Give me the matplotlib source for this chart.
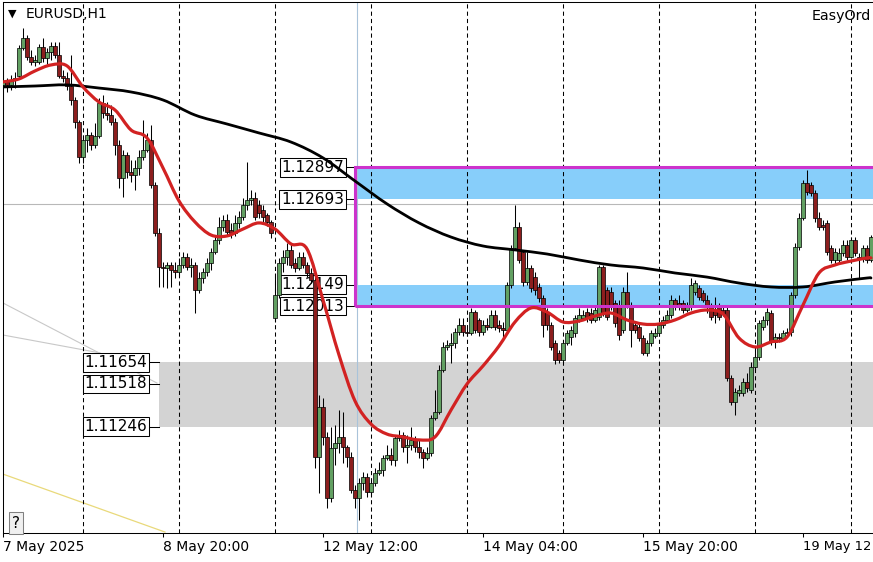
import numpy as np
import matplotlib.pyplot as plt
from matplotlib.patches import Rectangle, PathPatch
from matplotlib.path import Path

# EURUSD H1 bars, 7 May 2025 04:00 onwards (weekend compressed like MT4)
opens = [
    1.13422, 1.13441, 1.13422, 1.13453, 1.13479, 1.13657, 1.13721, 1.13600, 1.13568, 1.13568,
    1.13664, 1.13594, 1.13632, 1.13670, 1.13613, 1.13479, 1.13466, 1.13415, 1.13326, 1.13186,
    1.12963, 1.13071, 1.13103, 1.13039, 1.13097, 1.13307, 1.13243, 1.13230, 1.13186, 1.13039,
    1.12829, 1.12976, 1.12867, 1.12848, 1.12893, 1.12963, 1.13008, 1.13071, 1.12785, 1.12479,
    1.12262, 1.12256, 1.12275, 1.12243, 1.12230, 1.12275, 1.12326, 1.12262, 1.12275, 1.12116,
    1.12192, 1.12230, 1.12288, 1.12358, 1.12435, 1.12517, 1.12562, 1.12498, 1.12479, 1.12543,
    1.12581, 1.12657, 1.12689, 1.12702, 1.12657, 1.12625, 1.12594, 1.12549, 1.11937, 1.12084,
    1.12288, 1.12326, 1.12371, 1.12288, 1.12256, 1.12326, 1.12275, 1.12224, 1.12179, 1.11052,
    1.11371, 1.11180, 1.10791, 1.11109, 1.11141, 1.11180, 1.11116, 1.11052, 1.10842, 1.10791,
    1.10886, 1.10925, 1.10829, 1.10886, 1.10950, 1.10969, 1.11046, 1.11065, 1.11033, 1.11173,
    1.11192, 1.11116, 1.11128, 1.11161, 1.11116, 1.11084, 1.11046, 1.11077, 1.11301, 1.11339,
    1.11606, 1.11753, 1.11766, 1.11778, 1.11848, 1.11893, 1.11848, 1.11842, 1.11975, 1.11925,
    1.11848, 1.11893, 1.11880, 1.11956, 1.11893, 1.11874, 1.11861, 1.12147, 1.12384, 1.12517,
    1.12358, 1.12166, 1.12256, 1.12198, 1.12135, 1.12065, 1.11975, 1.11893, 1.11778, 1.11715,
    1.11670, 1.11778, 1.11816, 1.11842, 1.11925, 1.11937, 1.11975, 1.11969, 1.11925, 1.11944,
    1.12262, 1.12116, 1.12103, 1.12033, 1.12020, 1.11861, 1.12103, 1.12020, 1.11893, 1.11880,
    1.11810, 1.11715, 1.11778, 1.11823, 1.11842, 1.11893, 1.11925, 1.11956, 1.12052, 1.12033,
    1.12033, 1.11988, 1.12007, 1.12103, 1.12129, 1.12097, 1.12052, 1.12007, 1.11988, 1.12007,
    1.11988, 1.11988, 1.11555, 1.11404, 1.11461, 1.11461, 1.11530, 1.11480, 1.11625, 1.11689,
    1.11880, 1.11925, 1.11969, 1.11785, 1.11816, 1.11810, 1.11842, 1.11848, 1.12084, 1.12390,
    1.12575, 1.12797, 1.12785, 1.12734, 1.12575, 1.12530, 1.12543, 1.12384, 1.12307, 1.12307,
    1.12352, 1.12403, 1.12326, 1.12435, 1.12326, 1.12314, 1.12384, 1.12307,
]
highs = [
    1.13517, 1.13466, 1.13485, 1.13504, 1.13676, 1.13785, 1.13740, 1.13645, 1.13613, 1.13683,
    1.13721, 1.13657, 1.13695, 1.13695, 1.13695, 1.13517, 1.13504, 1.13613, 1.13345, 1.13199,
    1.13103, 1.13148, 1.13122, 1.13180, 1.13339, 1.13358, 1.13313, 1.13294, 1.13211, 1.13071,
    1.13008, 1.12995, 1.12944, 1.12944, 1.13008, 1.13199, 1.13116, 1.13167, 1.12804, 1.12511,
    1.12294, 1.12294, 1.12294, 1.12294, 1.12320, 1.12358, 1.12352, 1.12320, 1.12294, 1.12230,
    1.12256, 1.12320, 1.12384, 1.12460, 1.12581, 1.12594, 1.12600, 1.12543, 1.12594, 1.12619,
    1.12702, 1.12931, 1.12753, 1.12740, 1.12689, 1.12657, 1.12606, 1.12562, 1.12224, 1.12320,
    1.12371, 1.12416, 1.12416, 1.12320, 1.12358, 1.12358, 1.12294, 1.12256, 1.12211, 1.11448,
    1.11429, 1.11211, 1.11243, 1.11257, 1.11352, 1.11339, 1.11128, 1.11084, 1.10874, 1.10918,
    1.10957, 1.10950, 1.10918, 1.10982, 1.11020, 1.11065, 1.11128, 1.11109, 1.11192, 1.11224,
    1.11211, 1.11192, 1.11243, 1.11186, 1.11161, 1.11103, 1.11116, 1.11320, 1.11480, 1.11638,
    1.11785, 1.11797, 1.11842, 1.11874, 1.11937, 1.11937, 1.11893, 1.12001, 1.11988, 1.11937,
    1.11925, 1.11937, 1.11988, 1.11988, 1.11925, 1.11912, 1.12166, 1.12403, 1.12657, 1.12549,
    1.12371, 1.12358, 1.12275, 1.12230, 1.12160, 1.12084, 1.12001, 1.11912, 1.11797, 1.11734,
    1.11797, 1.11861, 1.11887, 1.11956, 1.12001, 1.11988, 1.12001, 1.12001, 1.12020, 1.12275,
    1.12275, 1.12135, 1.12135, 1.12052, 1.12052, 1.12135, 1.12230, 1.12039, 1.11912, 1.11906,
    1.11829, 1.11797, 1.11861, 1.11874, 1.11912, 1.11950, 1.11988, 1.12084, 1.12065, 1.12084,
    1.12052, 1.12039, 1.12192, 1.12179, 1.12147, 1.12116, 1.12084, 1.12033, 1.12071, 1.12033,
    1.12020, 1.12020, 1.11575, 1.11492, 1.11511, 1.11555, 1.11587, 1.11657, 1.11734, 1.11925,
    1.11950, 1.12001, 1.11988, 1.11842, 1.11842, 1.11861, 1.11874, 1.12103, 1.12416, 1.12606,
    1.12817, 1.12880, 1.12804, 1.12753, 1.12613, 1.12562, 1.12562, 1.12403, 1.12384, 1.12384,
    1.12435, 1.12435, 1.12454, 1.12454, 1.12352, 1.12403, 1.12403, 1.12466,
]
lows = [
    1.13262, 1.13377, 1.13390, 1.13402, 1.13466, 1.13645, 1.13581, 1.13549, 1.13543, 1.13555,
    1.13568, 1.13555, 1.13581, 1.13594, 1.13466, 1.13441, 1.13390, 1.13294, 1.13148, 1.12925,
    1.12925, 1.12995, 1.13008, 1.13020, 1.13084, 1.13211, 1.13199, 1.13167, 1.12976, 1.12767,
    1.12708, 1.12829, 1.12804, 1.12753, 1.12848, 1.12944, 1.12995, 1.12767, 1.12460, 1.12135,
    1.12135, 1.12129, 1.12135, 1.12192, 1.12205, 1.12256, 1.12243, 1.12198, 1.11969, 1.12097,
    1.12160, 1.12205, 1.12243, 1.12346, 1.12409, 1.12492, 1.12466, 1.12447, 1.12460, 1.12511,
    1.12562, 1.12625, 1.12657, 1.12562, 1.12575, 1.12549, 1.12524, 1.12447, 1.11912, 1.12065,
    1.12230, 1.12275, 1.12256, 1.12230, 1.12243, 1.12256, 1.12198, 1.12160, 1.10982, 1.10823,
    1.11128, 1.10727, 1.10765, 1.11001, 1.11077, 1.11014, 1.10988, 1.10823, 1.10727, 1.10651,
    1.10842, 1.10797, 1.10797, 1.10867, 1.10938, 1.10931, 1.11033, 1.11001, 1.10995, 1.11154,
    1.11084, 1.11014, 1.11097, 1.11084, 1.11046, 1.10982, 1.11033, 1.11058, 1.11289, 1.11326,
    1.11593, 1.11734, 1.11651, 1.11747, 1.11829, 1.11823, 1.11823, 1.11829, 1.11842, 1.11823,
    1.11829, 1.11861, 1.11874, 1.11861, 1.11848, 1.11816, 1.11842, 1.12129, 1.12371, 1.12288,
    1.12141, 1.12147, 1.12103, 1.12084, 1.12039, 1.11816, 1.11861, 1.11734, 1.11645, 1.11651,
    1.11657, 1.11766, 1.11766, 1.11816, 1.11912, 1.11925, 1.11912, 1.11906, 1.11912, 1.11925,
    1.11950, 1.11925, 1.11988, 1.11880, 1.11797, 1.11842, 1.12001, 1.11753, 1.11842, 1.11791,
    1.11702, 1.11696, 1.11759, 1.11810, 1.11823, 1.11874, 1.11912, 1.11937, 1.11988, 1.11988,
    1.11969, 1.11975, 1.11988, 1.12084, 1.12052, 1.12039, 1.11969, 1.11925, 1.11906, 1.11925,
    1.11950, 1.11536, 1.11384, 1.11320, 1.11442, 1.11442, 1.11467, 1.11461, 1.11606, 1.11670,
    1.11861, 1.11893, 1.11766, 1.11747, 1.11785, 1.11797, 1.11816, 1.11823, 1.12065, 1.12371,
    1.12562, 1.12721, 1.12715, 1.12549, 1.12498, 1.12498, 1.12339, 1.12288, 1.12275, 1.12294,
    1.12333, 1.12307, 1.12320, 1.12333, 1.12192, 1.12294, 1.12288, 1.12294,
]
closes = [
    1.13441, 1.13422, 1.13453, 1.13466, 1.13657, 1.13721, 1.13600, 1.13568, 1.13581, 1.13664,
    1.13594, 1.13632, 1.13670, 1.13613, 1.13479, 1.13466, 1.13415, 1.13326, 1.13186, 1.12963,
    1.13071, 1.13103, 1.13039, 1.13097, 1.13307, 1.13243, 1.13230, 1.13186, 1.13039, 1.12829,
    1.12976, 1.12867, 1.12848, 1.12893, 1.12963, 1.13008, 1.13071, 1.12785, 1.12479, 1.12262,
    1.12256, 1.12275, 1.12243, 1.12230, 1.12275, 1.12326, 1.12262, 1.12275, 1.12116, 1.12192,
    1.12230, 1.12288, 1.12358, 1.12435, 1.12517, 1.12562, 1.12485, 1.12479, 1.12543, 1.12581,
    1.12657, 1.12689, 1.12702, 1.12581, 1.12606, 1.12581, 1.12549, 1.12479, 1.12084, 1.12288,
    1.12326, 1.12371, 1.12275, 1.12256, 1.12326, 1.12275, 1.12224, 1.12179, 1.11052, 1.11371,
    1.11180, 1.10791, 1.11109, 1.11141, 1.11180, 1.11116, 1.11052, 1.10842, 1.10791, 1.10886,
    1.10925, 1.10829, 1.10886, 1.10950, 1.10969, 1.11046, 1.11065, 1.11033, 1.11173, 1.11192,
    1.11116, 1.11128, 1.11161, 1.11116, 1.11084, 1.11046, 1.11077, 1.11301, 1.11339, 1.11606,
    1.11753, 1.11766, 1.11778, 1.11848, 1.11893, 1.11848, 1.11842, 1.11975, 1.11861, 1.11848,
    1.11893, 1.11880, 1.11956, 1.11880, 1.11874, 1.11861, 1.12147, 1.12384, 1.12517, 1.12307,
    1.12166, 1.12256, 1.12129, 1.12116, 1.12065, 1.11893, 1.11893, 1.11753, 1.11670, 1.11670,
    1.11778, 1.11842, 1.11861, 1.11937, 1.11956, 1.11956, 1.11937, 1.11925, 1.11988, 1.12262,
    1.11969, 1.11944, 1.12007, 1.11906, 1.11829, 1.12103, 1.12020, 1.11861, 1.11861, 1.11810,
    1.11715, 1.11778, 1.11842, 1.11842, 1.11893, 1.11925, 1.11956, 1.12052, 1.12020, 1.12007,
    1.11988, 1.12007, 1.12147, 1.12160, 1.12071, 1.12052, 1.12007, 1.11944, 1.11956, 1.11944,
    1.11969, 1.11555, 1.11404, 1.11467, 1.11480, 1.11530, 1.11492, 1.11625, 1.11689, 1.11906,
    1.11925, 1.11975, 1.11785, 1.11816, 1.11810, 1.11842, 1.11848, 1.12084, 1.12390, 1.12575,
    1.12797, 1.12740, 1.12734, 1.12575, 1.12517, 1.12517, 1.12358, 1.12307, 1.12358, 1.12352,
    1.12403, 1.12326, 1.12435, 1.12352, 1.12314, 1.12384, 1.12307, 1.12454,
]

# moving averages (red = fast MA every 4 bars, black = slow MA every 8 bars)
red_ma_bars = list(range(0, 217, 4)) + [217]
red_ma = [
    1.13441, 1.13460, 1.13511, 1.13549, 1.13543, 1.13409, 1.13313, 1.13262, 1.13135, 1.13084,
    1.12893, 1.12683, 1.12549, 1.12466, 1.12460, 1.12504, 1.12543, 1.12504, 1.12409, 1.12377,
    1.12052, 1.11702, 1.11409, 1.11262, 1.11198, 1.11180, 1.11161, 1.11180, 1.11351, 1.11517,
    1.11632, 1.11759, 1.11912, 1.12001, 1.11975, 1.11912, 1.11918, 1.11950, 1.11969, 1.11925,
    1.11899, 1.11899, 1.11925, 1.11969, 1.11988, 1.11963, 1.11810, 1.11753, 1.11785, 1.11816,
    1.12020, 1.12224, 1.12275, 1.12300, 1.12320, 1.12320,
]
black_ma_bars = list(range(0, 217, 8)) + [217]
black_ma = [
    1.13409, 1.13415, 1.13422, 1.13402, 1.13377, 1.13326, 1.13230, 1.13173, 1.13116, 1.13058,
    1.12957, 1.12810, 1.12664, 1.12543, 1.12453, 1.12396, 1.12371, 1.12345, 1.12307, 1.12275,
    1.12256, 1.12224, 1.12198, 1.12160, 1.12135, 1.12135, 1.12167, 1.12192, 1.12192,
]

separators = [20, 44, 68, 92, 116, 140, 164, 188, 212]
tick_bars = [0, 40, 80, 120, 160, 200]
tick_labels = ['7 May 2025', '8 May 20:00', '12 May 12:00', '14 May 04:00',
               '15 May 20:00', '19 May 12']

blue_start = 88
blue_levels = [1.12897, 1.12693, 1.12149, 1.12013]
gray_start = 39
gray_levels = [1.11654, 1.11518, 1.11246]
bid_level = 1.12663
cursor_bar = 88.5

# trend line objects: (bar0, price0, bar1, price1)
gray_trend_1 = (0, 1.12033, 38.5, 1.11523)
gray_trend_2 = (0, 1.11829, 24.25, 1.11715)
yellow_trend = (-0.75, 1.10950, 40.5, 1.10574)


def smooth_path(xs, ys):
    # Catmull-Rom through the read points, drawn as cubic Bezier segments
    pts = np.column_stack([xs, ys]).astype(float)
    n = len(pts)
    verts = [pts[0]]
    codes = [Path.MOVETO]
    for k in range(n - 1):
        p0 = pts[k - 1] if k > 0 else pts[k]
        p1, p2 = pts[k], pts[k + 1]
        p3 = pts[k + 2] if k + 2 < n else pts[k + 1]
        verts += [p1 + (p2 - p0) / 6, p2 - (p3 - p1) / 6, p2]
        codes += [Path.CURVE4] * 3
    return Path(verts, codes)


o = np.array(opens)
h = np.array(highs)
l = np.array(lows)
c = np.array(closes)
x = np.arange(len(c))
assert len(o) == len(h) == len(l) == len(c)

fig = plt.figure(figsize=(8.73, 5.62), dpi=100)
ax = fig.add_axes([3 / 873, 29 / 562, 880 / 873, 531 / 562])
ax.set_xlim(0, 220)
ax.set_ylim(1.10568, 1.13950)
px = (1.13950 - 1.10568) / 531

# zones
ax.add_patch(Rectangle((blue_start, blue_levels[1]), 300, blue_levels[0] - blue_levels[1],
                       facecolor='#87cefa', edgecolor='none', zorder=1))
ax.add_patch(Rectangle((blue_start, blue_levels[3]), 300, blue_levels[2] - blue_levels[3],
                       facecolor='#87cefa', edgecolor='none', zorder=1))
ax.add_patch(Rectangle((gray_start, gray_levels[2]), 300, gray_levels[0] - gray_levels[2],
                       facecolor='#d3d3d3', edgecolor='none', zorder=1))

ax.axhline(bid_level, color='#b8b8b8', lw=0.8, zorder=1.1)
ax.axvline(cursor_bar, color='#a9c3da', lw=0.8, zorder=1.1)

for t in (gray_trend_1, gray_trend_2):
    ax.plot([t[0], t[2]], [t[1], t[3]], color='#c8c8c8', lw=0.8, zorder=1.2)
ax.plot([yellow_trend[0], yellow_trend[2]], [yellow_trend[1], yellow_trend[3]],
        color='#e9d97a', lw=0.9, zorder=1.2)

for s in separators:
    ax.axvline(s, color='black', lw=0.75, ls=(0, (4, 3)), zorder=1.5)

# price labels
for lv in blue_levels:
    ax.plot([85.75, blue_start], [lv, lv], color='black', lw=0.75, zorder=2)
    ax.text(85.3, lv, f'{lv:.5f}', ha='right', va='center', fontsize=11, zorder=2,
            bbox=dict(boxstyle='square,pad=0.12', facecolor='white', edgecolor='black', lw=0.75))
for lv in gray_levels:
    ax.plot([36.5, gray_start], [lv, lv], color='black', lw=0.75, zorder=2)
    ax.text(36.05, lv, f'{lv:.5f}', ha='right', va='center', fontsize=11, zorder=2,
            bbox=dict(boxstyle='square,pad=0.12', facecolor='white', edgecolor='black', lw=0.75))

# candles
ax.vlines(x, l, h, color='black', lw=0.75, zorder=2.9)
body_low = np.minimum(o, c)
body_h = np.maximum(np.abs(c - o), 0.8 * px)
cols = np.where(c >= o, '#62a062', '#8c1e1e')
ax.bar(x, body_h, bottom=body_low, width=0.78, color=cols, edgecolor='black',
       linewidth=0.5, zorder=3)

ax.add_patch(Rectangle((blue_start, blue_levels[3]), 300, blue_levels[0] - blue_levels[3],
                       fill=False, edgecolor='#cc33cc', lw=2.2, zorder=3.5))

ax.add_patch(PathPatch(smooth_path(black_ma_bars, black_ma), fill=False, edgecolor='black',
                       lw=2.0, capstyle='round', joinstyle='round', zorder=4))
ax.add_patch(PathPatch(smooth_path(red_ma_bars, red_ma), fill=False, edgecolor='#d22222',
                       lw=2.3, capstyle='round', joinstyle='round', zorder=4.1))

ax.set_yticks([])
ax.set_xticks(tick_bars)
ax.set_xticklabels(tick_labels, ha='left', fontsize=10)
ax.get_xticklabels()[-1].set_fontsize(9.4)
ax.tick_params(axis='x', direction='out', length=3, width=0.75, pad=2)
ax.spines['right'].set_visible(False)
for sp in ('left', 'top', 'bottom'):
    ax.spines[sp].set_linewidth(0.75)

fig.text(8 / 873, 1 - 14 / 562, '\u25bc', fontsize=8, va='center', ha='left')
fig.text(26 / 873, 1 - 14 / 562, 'EURUSD,H1', fontsize=10, va='center', ha='left')
fig.text(812 / 873, 1 - 16 / 562, 'EasyOrd', fontsize=10.3, va='center', ha='left')
fig.text(16 / 873, 1 - 523 / 562, '?', fontsize=11, va='center', ha='center',
         bbox=dict(boxstyle='square,pad=0.2', facecolor='#f0f0f0', edgecolor='#808080', lw=0.75))

fig.savefig('out.png', dpi=100)
